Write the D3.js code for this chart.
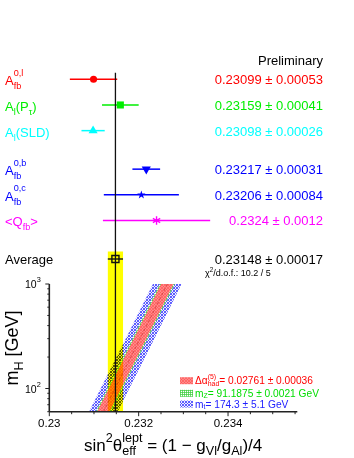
<!DOCTYPE html>
<html>
<head>
<meta charset="utf-8">
<script src="https://cdn.jsdelivr.net/npm/d3@7"></script>
<style>
body { margin: 0; background: #fff; }
svg { display: block; font-family: "Liberation Sans", Arial, sans-serif; }
</style>
</head>
<body>
<svg id="chart"></svg>
<script>
// Chart size
const width = 354;
const height = 458;

// Measurements of sin2theta (upper panel)
const measNames = [
	["A", { sub: "fb", sup: "0,l" }],
	["A", { sub: "l" }, "(P", { sub: "τ" }, ")"],
	["A", { sub: "l" }, "(SLD)"],
	["A", { sub: "fb", sup: "0,b" }],
	["A", { sub: "fb", sup: "0,c" }],
	["<Q", { sub: "fb" }, ">"],
];
const measValues = [0.23099, 0.23159, 0.23098, 0.23217, 0.23206, 0.2324];
const measErrors = [0.00053, 0.00041, 0.00026, 0.00031, 0.00084, 0.0012];
const measText = [
	"0.23099 ± 0.00053",
	"0.23159 ± 0.00041",
	"0.23098 ± 0.00026",
	"0.23217 ± 0.00031",
	"0.23206 ± 0.00084",
	"0.2324 ± 0.0012",
];
const measRows = [0, 1, 2, 3.5, 4.5, 5.5];
const measColors = ["#ff0000", "#00ee00", "#00ffff", "#0000ff", "#0000ff", "#ff00ff"];
const measSymbols = ["circle", "square", "triangle", "triangleDown", "star", "asterisk"];

const averageValue = 0.23148;
const averageError = 0.00017;
const averageText = "0.23148 ± 0.00017";
const averageRow = 7;
const chi2Text = "/d.o.f.: 10.2 / 5";

// SM prediction band (lower panel)
const bandMh = [60, 100, 300, 1000];
const bandCenter = [0.23121, 0.23147, 0.23203, 0.23264];
const errAlpha = 0.00014;
const errMz = 0.00017;
const errMt = 0.00032;

const legendParts = [
	["Δα", { sub: "had", sup: "(5)" }, "= 0.02761 ± 0.00036"],
	["m", { sub: "Z" }, "= 91.1875 ± 0.0021 GeV"],
	["m", { sub: "t" }, "= 174.3 ± 5.1 GeV"],
];

// Axis ticks
const xMajorTicks = [0.23, 0.232, 0.234];
const xMinorTicks = d3.range(0, 12).map((i) => 0.23 + i * 0.0005);
const yMajorTicks = [100, 1000];
const yMinorTicks = [60, 70, 80, 90, 200, 300, 400, 500, 600, 700, 800, 900];

// Scales
const xScale = d3.scaleLinear().domain([0.23, 0.23555]).range([49.3, 297.3]);
const rowScale = d3.scaleLinear().domain([0, 7]).range([79.3, 259]);
const yScale = d3.scaleLog().domain([60, 1000]).range([411.7, 284]);

const svg = d3.select("#chart").attr("width", width).attr("height", height);
svg.append("rect").attr("width", width).attr("height", height).attr("fill", "#fff");

// text with sub/superscripts, measured so stacked ones line up
function richText(sel, parts, size, supShift = 0.62, subShift = 0.3, scriptScale = 0.7) {
	let shift = 0;
	let pendingDx = 0;
	parts.forEach((p) => {
		if (typeof p === "string") {
			sel.append("tspan")
				.attr("dy", -shift)
				.attr("dx", pendingDx)
				.style("font-size", size + "px")
				.text(p);
			shift = 0;
			pendingDx = 0;
			return;
		}
		let subW = 0;
		if (p.sub) {
			const t = sel.append("tspan")
				.attr("dy", size * subShift - shift)
				.attr("dx", pendingDx)
				.style("font-size", size * scriptScale + "px")
				.text(p.sub);
			subW = t.node().getComputedTextLength();
			shift = size * subShift;
			pendingDx = 0;
		}
		if (p.sup) {
			const t = sel.append("tspan")
				.attr("dy", -size * supShift - shift)
				.attr("dx", pendingDx - subW)
				.style("font-size", size * scriptScale + "px")
				.text(p.sup);
			const supW = t.node().getComputedTextLength();
			shift = -size * supShift;
			pendingDx = Math.max(0, subW - supW);
		}
	});
	return sel;
}

// Patterns for the bands (each on a white base, yellow is multiplied on top)
const defs = svg.append("defs");

const redPat = defs.append("pattern").attr("id", "hatchRed")
	.attr("patternUnits", "userSpaceOnUse").attr("width", 3).attr("height", 3);
redPat.append("rect").attr("width", 3).attr("height", 3).attr("fill", "#ff8a8a");
redPat.append("path").attr("d", "M0,0L3,3M3,0L0,3")
	.attr("stroke", "#ff5050").attr("stroke-width", 0.6);

const greenPat = defs.append("pattern").attr("id", "hatchGreen")
	.attr("patternUnits", "userSpaceOnUse").attr("width", 2).attr("height", 2);
greenPat.append("rect").attr("width", 2).attr("height", 2).attr("fill", "#fff");
greenPat.append("path").attr("d", "M0,0.5H2M0.5,0V2")
	.attr("stroke", "#33cc33").attr("stroke-width", 0.7);

const bluePat = defs.append("pattern").attr("id", "hatchBlue")
	.attr("patternUnits", "userSpaceOnUse").attr("width", 3).attr("height", 3);
bluePat.append("rect").attr("width", 3).attr("height", 3).attr("fill", "#eeeeff");
bluePat.append("path").attr("d", "M0,0L3,3M3,0L0,3")
	.attr("stroke", "#4d4dff").attr("stroke-width", 0.9);

defs.append("clipPath").attr("id", "plotClip")
	.append("rect")
	.attr("x", xScale.range()[0]).attr("y", yScale.range()[1])
	.attr("width", xScale.range()[1] - xScale.range()[0])
	.attr("height", yScale.range()[0] - yScale.range()[1]);

// Lower panel
const bandData = bandMh.map((m, i) => ({ mh: m, c: bandCenter[i] }));
const lower = svg.append("g");

const bands = lower.append("g").attr("clip-path", "url(#plotClip)");
[
	[errMt, "url(#hatchBlue)"],
	[errMz, "url(#hatchGreen)"],
	[errAlpha, "url(#hatchRed)"],
].forEach(([err, fill]) => {
	bands.append("path")
		.datum(bandData)
		.attr("d", d3.area()
			.y((d) => yScale(d.mh))
			.x0((d) => xScale(d.c - err))
			.x1((d) => xScale(d.c + err)))
		.attr("fill", fill);
});
bands.append("path")
	.datum(bandData)
	.attr("d", d3.line().x((d) => xScale(d.c)).y((d) => yScale(d.mh)))
	.attr("fill", "none")
	.attr("stroke", "#c03030")
	.attr("stroke-width", 0.6)
	.attr("stroke-dasharray", "3,2");

// yellow average band
lower.append("rect")
	.attr("x", xScale(averageValue - averageError))
	.attr("y", rowScale(averageRow) - 7.5)
	.attr("width", xScale(averageValue + averageError) - xScale(averageValue - averageError))
	.attr("height", yScale.range()[0] - rowScale(averageRow) + 7.5)
	.attr("fill", "#ffff00")
	.style("mix-blend-mode", "multiply");

// Axes
const axisColor = "#222";
lower.append("line")
	.attr("x1", xScale.range()[0]).attr("x2", xScale.range()[1])
	.attr("y1", yScale.range()[0]).attr("y2", yScale.range()[0])
	.attr("stroke", axisColor).attr("stroke-width", 1.6);
lower.append("line")
	.attr("x1", xScale.range()[0]).attr("x2", xScale.range()[0])
	.attr("y1", yScale.range()[0]).attr("y2", yScale.range()[1])
	.attr("stroke", axisColor).attr("stroke-width", 1.6);

lower.selectAll(".xminor")
	.data(xMinorTicks)
	.join("line")
	.attr("x1", (d) => xScale(d)).attr("x2", (d) => xScale(d))
	.attr("y1", yScale.range()[0]).attr("y2", (d) => yScale.range()[0] + (xMajorTicks.some((t) => Math.abs(t - d) < 1e-7) ? 4.5 : 2.5))
	.attr("stroke", axisColor).attr("stroke-width", 1);

lower.selectAll(".xlabel")
	.data(xMajorTicks)
	.join("text")
	.attr("x", (d) => xScale(d))
	.attr("y", 427)
	.attr("text-anchor", "middle")
	.style("font-size", "11.5px")
	.text((d) => d3.format(".3~f")(d));

lower.selectAll(".yminor")
	.data(yMinorTicks.concat(yMajorTicks))
	.join("line")
	.attr("x1", (d) => xScale.range()[0] - (yMajorTicks.includes(d) ? 4 : 2)).attr("x2", xScale.range()[0])
	.attr("y1", (d) => yScale(d)).attr("y2", (d) => yScale(d))
	.attr("stroke", axisColor).attr("stroke-width", 1);

yMajorTicks.forEach((t) => {
	const txt = lower.append("text")
		.attr("x", 25)
		.attr("y", yScale(t) + 4)
		.style("font-size", "10.5px");
	richText(txt, ["10", { sup: String(Math.round(Math.log10(t))) }], 10.5, 0.55);
});

// axis titles
const yTitle = svg.append("text")
	.attr("transform", `translate(18, 348) rotate(-90)`)
	.attr("text-anchor", "middle");
richText(yTitle, ["m", { sub: "H" }, "  [GeV]"], 18);

const xTitle = svg.append("text").attr("x", 84).attr("y", 450.5);
richText(xTitle, ["sin", { sup: "2" }, "θ", { sub: "eff", sup: "lept" }, " = (1 − g", { sub: "Vl" }, "/g", { sub: "Al" }, ")/4"], 17, 0.5, 0.24, 0.74);

// Legend
const legendY = [380.7, 393.3, 404];
const legendFill = ["url(#hatchRed)", "url(#hatchGreen)", "url(#hatchBlue)"];
const legendColor = ["#ff0000", "#00dd00", "#2020ff"];
legendParts.forEach((parts, i) => {
	svg.append("rect")
		.attr("x", 180).attr("y", legendY[i] - 3.5)
		.attr("width", 13).attr("height", 7)
		.attr("fill", legendFill[i]);
	const t = svg.append("text")
		.attr("x", 195).attr("y", legendY[i] + 3.5)
		.attr("fill", legendColor[i]);
	richText(t, parts, 10.2, 0.5, 0.16, 0.68);
});

// Upper panel
const upper = svg.append("g");

upper.append("text")
	.attr("x", 323).attr("y", 64.5)
	.attr("text-anchor", "end")
	.style("font-size", "13px")
	.text("Preliminary");

// average line, through both panels
svg.append("line")
	.attr("x1", xScale(averageValue)).attr("x2", xScale(averageValue))
	.attr("y1", 72.7).attr("y2", yScale.range()[0])
	.attr("stroke", "#111").attr("stroke-width", 1.3);

const symbolFor = {
	circle: d3.symbolCircle,
	square: d3.symbolSquare,
	triangle: d3.symbolTriangle,
	triangleDown: d3.symbolTriangle,
	star: d3.symbolStar,
	asterisk: d3.symbolAsterisk,
};

measValues.forEach((v, i) => {
	const y = rowScale(measRows[i]);
	const color = measColors[i];

	upper.append("line")
		.attr("x1", xScale(v - measErrors[i])).attr("x2", xScale(v + measErrors[i]))
		.attr("y1", y).attr("y2", y)
		.attr("stroke", color).attr("stroke-width", 1.5);

	const type = measSymbols[i];
	const sizes = { circle: 40, square: 50, triangle: 36, triangleDown: 36, star: 22, asterisk: 50 };
	upper.append("path")
		.attr("d", d3.symbol().type(symbolFor[type]).size(sizes[type])())
		.attr("transform", `translate(${xScale(v)}, ${y}) rotate(${type === "triangleDown" ? 180 : 0})`)
		.attr("fill", type === "asterisk" ? "none" : color)
		.attr("stroke", type === "asterisk" ? color : "none")
		.attr("stroke-width", 1.4);

	const label = upper.append("text")
		.attr("x", 5).attr("y", y + 6)
		.attr("fill", color);
	richText(label, measNames[i], 13, 0.72);

	upper.append("text")
		.attr("x", 323).attr("y", y + 5)
		.attr("text-anchor", "end")
		.attr("fill", color)
		.style("font-size", "13px")
		.text(measText[i]);
});

// average marker
const avgY = rowScale(averageRow);
upper.append("line")
	.attr("x1", xScale(averageValue - averageError)).attr("x2", xScale(averageValue + averageError))
	.attr("y1", avgY).attr("y2", avgY)
	.attr("stroke", "#111").attr("stroke-width", 1.4);
upper.append("path")
	.attr("d", d3.symbol().type(d3.symbolSquare).size(50)())
	.attr("transform", `translate(${xScale(averageValue)}, ${avgY})`)
	.attr("fill", "none").attr("stroke", "#111").attr("stroke-width", 1.4);

upper.append("text")
	.attr("x", 5).attr("y", avgY + 5)
	.style("font-size", "13px")
	.text("Average");
upper.append("text")
	.attr("x", 323).attr("y", avgY + 5)
	.attr("text-anchor", "end")
	.style("font-size", "13px")
	.text(averageText);

const chi = upper.append("text").attr("x", 205).attr("y", 276);
richText(chi, ["χ", { sup: "2" }, chi2Text], 9, 0.5);
</script>
</body>
</html>
